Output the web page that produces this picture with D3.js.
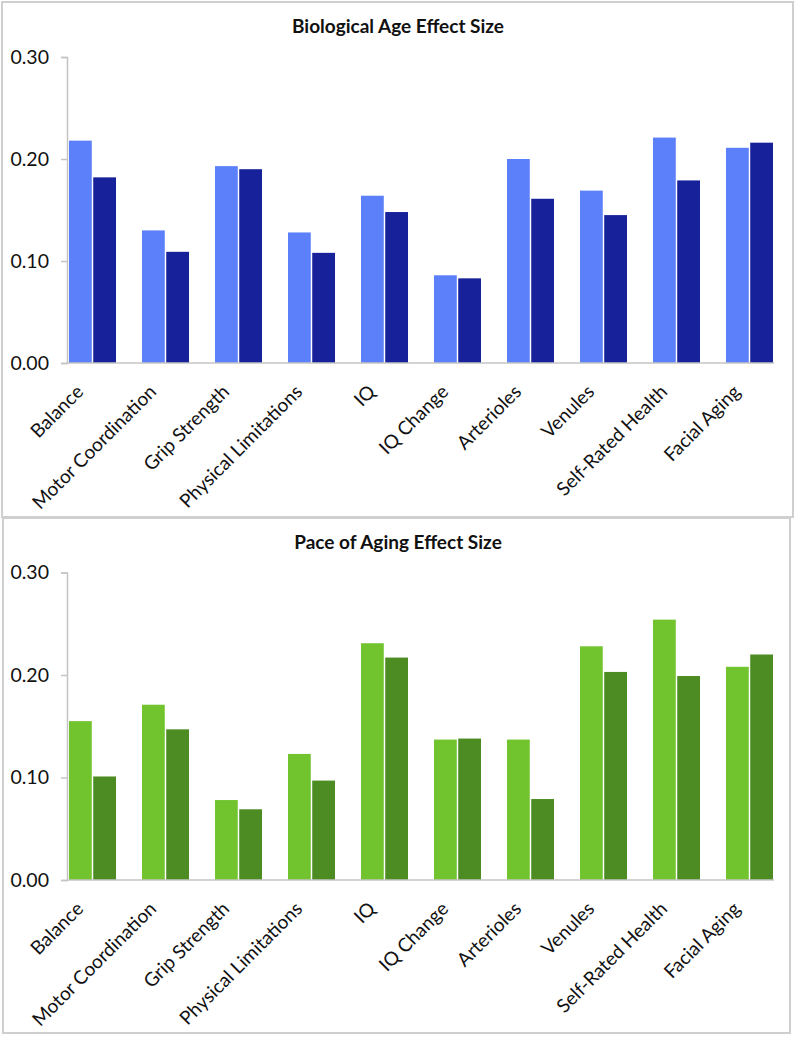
<!DOCTYPE html>
<html>
<head>
<meta charset="utf-8">
<script src="https://cdn.jsdelivr.net/npm/d3@7"></script>
<style>
  html, body { margin: 0; padding: 0; background: #fff; }
  svg { display: block; }
  text { font-family: Lato, "Open Sans", sans-serif; fill: #111; }
</style>
</head>
<body>
<svg id="chart" width="797" height="1037"></svg>
<script>
// ---- data ----
const categories = ["Balance", "Motor Coordination", "Grip Strength", "Physical Limitations", "IQ",
  "IQ Change", "Arterioles", "Venules", "Self-Rated Health", "Facial Aging"];
const bioLight = [0.218, 0.130, 0.193, 0.128, 0.164, 0.086, 0.200, 0.169, 0.221, 0.211];
const bioDark  = [0.182, 0.109, 0.190, 0.108, 0.148, 0.083, 0.161, 0.145, 0.179, 0.216];
const paceLight = [0.155, 0.171, 0.078, 0.123, 0.231, 0.137, 0.137, 0.228, 0.254, 0.208];
const paceDark  = [0.101, 0.147, 0.069, 0.097, 0.217, 0.138, 0.079, 0.203, 0.199, 0.220];
const yTicks = [0, 0.1, 0.2, 0.3];
const titles = ["Biological Age Effect Size", "Pace of Aging Effect Size"];

const svg = d3.select("#chart");

function drawPanel(opts) {
  const g = svg.append("g");
  // panel frame
  g.append("rect")
    .attr("x", opts.frame[0]).attr("y", opts.frame[1])
    .attr("width", opts.frame[2]).attr("height", opts.frame[3])
    .attr("fill", "#fff").attr("stroke", "#cfcfcf").attr("stroke-width", 2);

  const y = d3.scaleLinear().domain([0, 0.3]).range([opts.y0, opts.y0 - opts.h]);
  const x = d3.scaleBand().domain(categories).range([69, 773]).paddingInner(0.356).paddingOuter(0);
  const xs = d3.scaleBand().domain([0, 1]).range([0, x.bandwidth()]).paddingInner(0.06);

  // title
  g.append("text").attr("x", 398).attr("y", opts.titleY)
    .attr("text-anchor", "middle").attr("font-weight", "bold").attr("font-size", 19)
    .text(opts.title);

  // y axis
  const yAxis = d3.axisLeft(y).tickValues(yTicks).tickFormat(d3.format(".2f"))
    .tickSize(6).tickPadding(12);
  const ya = g.append("g").attr("transform", "translate(67,0)").call(yAxis);
  ya.select(".domain").attr("stroke", "#c4c4c4").attr("stroke-width", 1.5);
  ya.selectAll(".tick line").attr("stroke", "#c4c4c4").attr("stroke-width", 1.5);
  ya.selectAll(".tick text").attr("font-size", 19.5).attr("font-family", "Lato, sans-serif").attr("fill", "#111");

  // bars
  const rows = categories.map((c, i) => ({ c, v: [opts.light[i], opts.dark[i]] }));
  const grp = g.selectAll(".grp").data(rows).enter().append("g")
    .attr("transform", d => `translate(${x(d.c)},0)`);
  grp.selectAll("rect").data(d => d.v.map((v, k) => ({ v, k }))).enter().append("rect")
    .attr("x", d => xs(d.k)).attr("width", xs.bandwidth())
    .attr("y", d => y(d.v)).attr("height", d => y(0) - y(d.v))
    .attr("fill", d => opts.colors[d.k]);

  // x axis baseline
  g.append("line").attr("x1", 67).attr("x2", 774).attr("y1", y(0)).attr("y2", y(0))
    .attr("stroke", "#c4c4c4").attr("stroke-width", 1.5);

  // x labels rotated
  g.selectAll(".xl").data(categories).enter().append("text")
    .attr("transform", d => `translate(${x(d) + x.bandwidth() / 2 - 8},${y(0) + 30}) rotate(-45)`)
    .attr("text-anchor", "end").attr("font-size", 19)
    .text(d => d);
}

drawPanel({ frame: [2, 2, 791, 515], y0: 363, h: 306, titleY: 33, title: titles[0],
  light: bioLight, dark: bioDark, colors: ["#5b80fa", "#17229a"] });
drawPanel({ frame: [3, 518, 787, 515], y0: 880, h: 307.5, titleY: 549, title: titles[1],
  light: paceLight, dark: paceDark, colors: ["#72c42f", "#4d8c23"] });
</script>
</body>
</html>
